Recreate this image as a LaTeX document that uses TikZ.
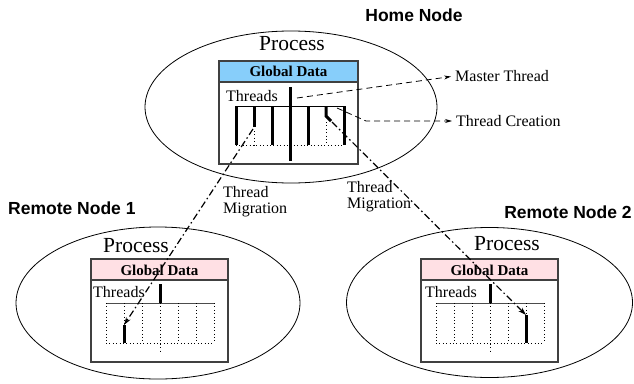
\documentclass[tikz,border=0pt]{standalone}
\usepackage{fontspec}
\setmainfont{Liberation Serif}
\setsansfont{Liberation Sans}
\usetikzlibrary{arrows.meta}
\definecolor{homeblue}{RGB}{135,206,250}
\definecolor{remotepink}{RGB}{255,224,228}
\tikzset{
  proc/.style={font=\fontsize{21.5}{21.5}\selectfont, inner sep=0pt},
  lbl/.style={font=\fontsize{16}{16}\selectfont, inner sep=0pt},
  gdata/.style={font=\fontsize{15}{15}\selectfont\bfseries, inner sep=0pt},
  hostname/.style={font=\fontsize{17.5}{17.5}\selectfont\sffamily\bfseries, inner sep=0pt},
  procbox/.style={draw=black!75, line width=1.1pt},
  thr/.style={line width=3pt},
  dotline/.style={line width=0.8pt, dash pattern=on 0.8pt off 2.6pt},
  migrate/.style={line width=1.2pt, dash pattern=on 7pt off 3pt on 1.5pt off 3pt,
    -{Stealth[length=8pt,width=5pt]}},
  pointer/.style={line width=0.8pt, dash pattern=on 6pt off 4pt, shorten >=4pt,
    -{Stealth[length=7pt,width=4pt]}},
}
\begin{document}
\begin{tikzpicture}[x=1pt,y=-1pt]
  \useasboundingbox (0,0) rectangle (634,383);

  % home node
  \node[hostname] (homename) at (414,15) {Home Node};
  \draw[line width=0.8pt] (291,107) ellipse [x radius=146pt, y radius=76pt];
  \node[proc] (homeproc) at (292,44) {Process};
  \draw[procbox, fill=homeblue] (219,61) rectangle (358,82);
  \draw[procbox] (219,82) rectangle (358,164);
  \node[gdata] (homegd) at (288.5,71.5) {Global Data};
  \node[lbl, anchor=west] (homethr) at (226,96) {Threads};
  \draw[line width=0.8pt] (236,106) -- (344,106);
  \draw[dotline] (236,145) -- (344,145);
  \foreach \x in {236,272,308,344}
    \draw[thr] (\x,106) -- (\x,145);
  \draw[thr] (290,87) -- (290,161);
  \draw[thr] (254,106) -- (254,127);
  \draw[dotline] (254,131) -- (254,145);
  \draw[thr] (326,106) -- (326,116) -- (331,121);
  \draw[dotline] (326,122) -- (326,145);
  \coordinate (mig1s) at (253,129);
  \coordinate (mig2s) at (332,122);
  \coordinate (mtop) at (297,98);
  \coordinate (tcs) at (337,108);
  \coordinate (tcbend) at (366,121);

  % remote node 1
  \node[hostname, anchor=west] (rem1name) at (8,208) {Remote Node 1};
  \draw[line width=0.8pt] (158,303) ellipse [x radius=142pt, y radius=76pt];
  \node[proc] (rem1proc) at (136,246) {Process};
  \draw[procbox, fill=remotepink] (91,259) rectangle (228,280);
  \draw[procbox] (91,280) rectangle (228,362);
  \node[gdata] (rem1gd) at (159.5,270) {Global Data};
  \node[lbl, anchor=west] (rem1thr) at (93,292) {Threads};
  \draw[line width=0.8pt, black!70] (106,303) -- (214,303);
  \foreach \x in {106,124,142,178,196,214}
    \draw[dotline] (\x,303) -- (\x,343);
  \draw[dotline] (160,303) -- (160,353);
  \draw[dotline] (106,343) -- (214,343);
  \draw[thr] (160,284) -- (160,303);
  \draw[thr] (124,325) -- (124,343);
  \coordinate (mig1e) at (124,325);

  % remote node 2
  \node[hostname] (rem2name) at (568,212) {Remote Node 2};
  \draw[line width=0.8pt] (489.5,302.5) ellipse [x radius=143pt, y radius=75pt];
  \node[proc] (rem2proc) at (507,244) {Process};
  \draw[procbox, fill=remotepink] (421,259) rectangle (558,280);
  \draw[procbox] (421,280) rectangle (558,362);
  \node[gdata] (rem2gd) at (489.5,270) {Global Data};
  \node[lbl, anchor=west] (rem2thr) at (425,292) {Threads};
  \draw[line width=0.8pt, black!70] (436,303) -- (544,303);
  \foreach \x in {436,454,472,508,526,544}
    \draw[dotline] (\x,303) -- (\x,343);
  \draw[dotline] (490,303) -- (490,353);
  \draw[dotline] (436,343) -- (544,343);
  \draw[thr] (490,284) -- (490,303);
  \draw[thr] (526,315) -- (526,343);
  \coordinate (mig2e) at (526,315);

  % labels and pointers
  \node[lbl, anchor=west] (mastlbl) at (455,76) {Master Thread};
  \node[lbl, anchor=west] (creatlbl) at (456,121) {Thread Creation};
  \draw[pointer] (mtop) -- (mastlbl.west);
  \draw[pointer] (tcs) -- (tcbend) -- (creatlbl.west);
  \node[lbl, align=left, anchor=north west] (mig1lbl) at (223,186) {Thread\\Migration};
  \node[lbl, align=left, anchor=north west] (mig2lbl) at (347,181) {Thread\\Migration};
  \draw[migrate] (mig1s) -- (mig1e);
  \draw[migrate] (mig2s) -- (mig2e);
\end{tikzpicture}
\end{document}
